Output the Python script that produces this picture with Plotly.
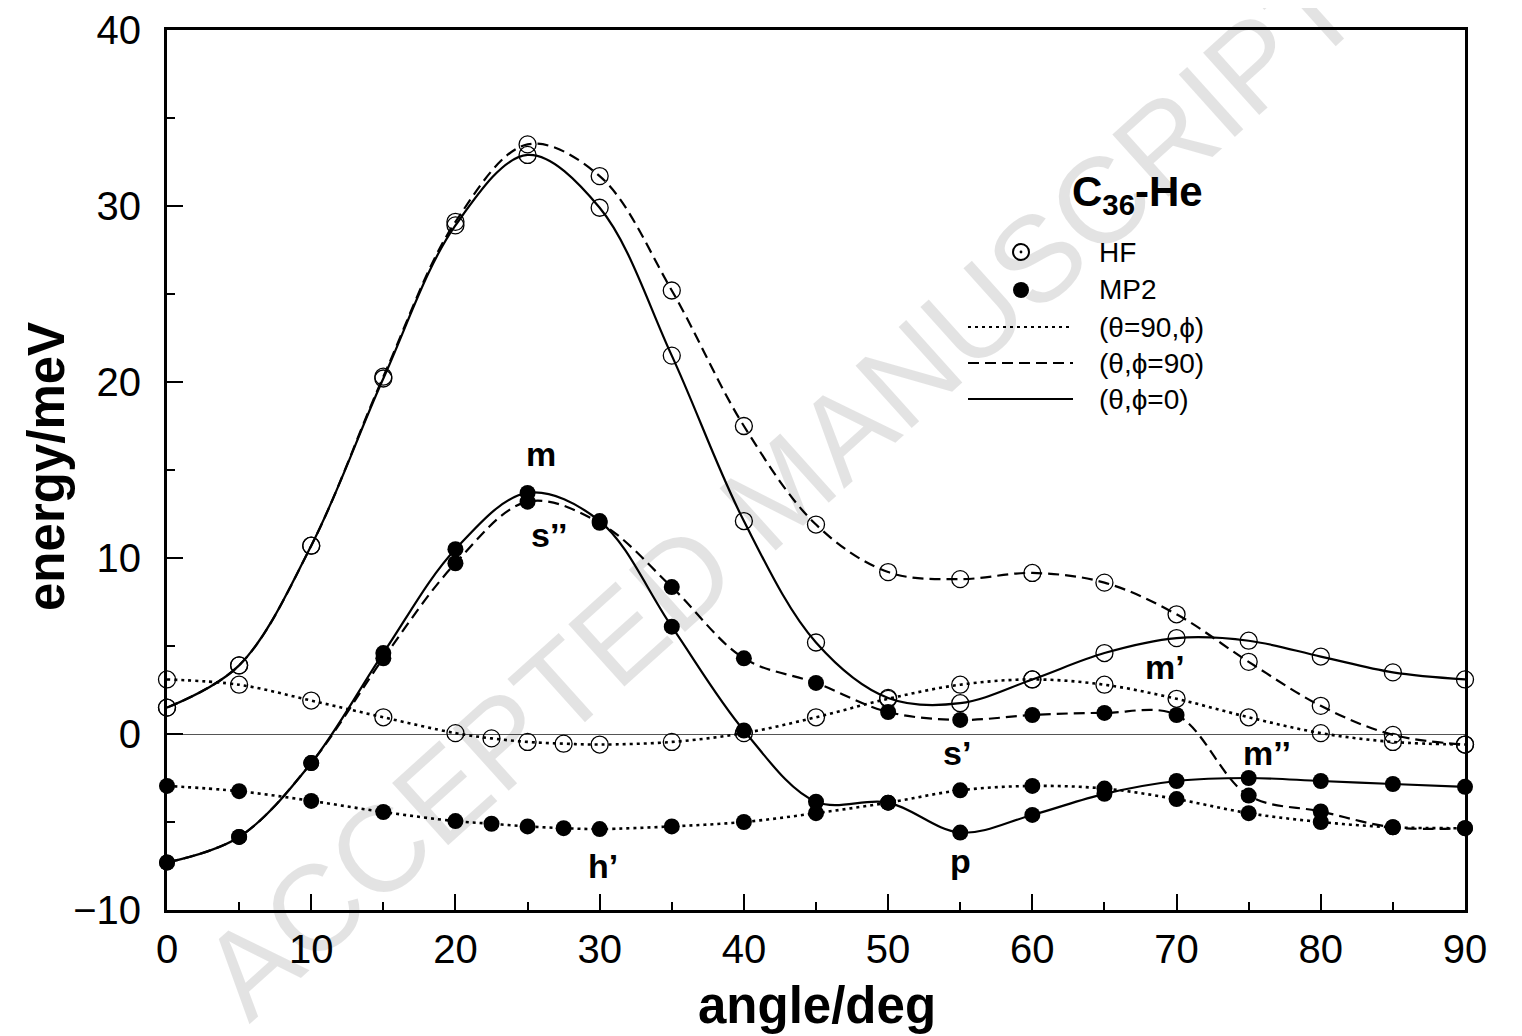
import plotly.graph_objects as go

# ---------------- data ----------------
angles = [0, 5, 10, 15, 20, 25, 30, 35, 40, 45, 50, 55, 60, 65, 70, 75, 80, 85, 90]
angles_dot = [0, 5, 10, 15, 20, 22.5, 25, 27.5, 30, 35, 40, 45, 50, 55, 60, 65, 70, 75, 80, 85, 90]

# HF (open circles)
hf_theta90_phi = [3.1, 2.8, 1.9, 0.95, 0.05, -0.25, -0.45, -0.55, -0.6, -0.45, 0.05,
                  0.95, 2.0, 2.8, 3.1, 2.8, 2.0, 0.95, 0.05, -0.45, -0.6]
hf_theta_phi90 = [1.5, 3.9, 10.7, 20.3, 29.1, 33.5, 31.7, 25.2, 17.5, 11.9, 9.2,
                  8.8, 9.15, 8.6, 6.8, 4.1, 1.6, -0.05, -0.6]
hf_theta_phi0 = [1.5, 3.9, 10.7, 20.2, 28.9, 32.9, 29.9, 21.5, 12.1, 5.2, 2.05,
                 1.75, 3.1, 4.6, 5.45, 5.3, 4.4, 3.5, 3.1]

# MP2 (filled circles)
mp2_theta90_phi = [-2.95, -3.25, -3.8, -4.43, -4.95, -5.1, -5.25, -5.35, -5.4, -5.25, -5.0,
                   -4.5, -3.9, -3.2, -2.95, -3.1, -3.7, -4.5, -5.0, -5.3, -5.35]
mp2_theta_phi90 = [-7.3, -5.85, -1.65, 4.3, 9.7, 13.2, 12.0, 8.35, 4.3, 2.9, 1.25,
                   0.8, 1.08, 1.2, 1.08, -3.5, -4.4, -5.3, -5.35]
mp2_theta_phi0 = [-7.3, -5.85, -1.65, 4.6, 10.5, 13.7, 12.1, 6.1, 0.2, -3.85, -3.9,
                  -5.6, -4.6, -3.4, -2.67, -2.5, -2.67, -2.84, -3.0]

x_ticks = [0, 10, 20, 30, 40, 50, 60, 70, 80, 90]
y_ticks = [-10, 0, 10, 20, 30, 40]
y_ticktext = ["\u221210", "0", "10", "20", "30", "40"]

# point labels: (text, angle, energy)
point_labels = [
    ("m", 25.9, 15.9), ("s\u2019\u2019", 26.5, 11.3), ("s\u2019", 54.8, -1.1),
    ("p", 55.0, -7.2), ("h\u2019", 30.2, -7.5), ("m\u2019", 69.2, 3.8),
    ("m\u2019\u2019", 76.3, -1.1), ("s", 93.0, -2.7), ("h\u2019", 92.4, -6.4),
    ("s", -2.6, -2.6), ("h", -2.6, -7.5),
]

FONT = "Liberation Sans, Arial, Helvetica, sans-serif"

fig = go.Figure()

DOT = "3px,4px"
DASH = "11px,6px"


def add_series(x, y, dash, filled):
    if filled:
        marker = dict(size=16, color="black", symbol="circle")
    else:
        marker = dict(size=17, color="black", symbol="circle-open",
                      line=dict(color="black", width=1.3))
    fig.add_trace(go.Scatter(
        x=x, y=y, mode="lines+markers",
        line=dict(color="black", width=2.6 if dash == DOT else 2.2, dash=dash,
                  shape="spline", smoothing=1.0),
        marker=marker, showlegend=False, cliponaxis=False,
    ))


add_series(angles_dot, hf_theta90_phi, DOT, False)
add_series(angles, hf_theta_phi90, DASH, False)
add_series(angles, hf_theta_phi0, "solid", False)
add_series(angles_dot, mp2_theta90_phi, DOT, True)
add_series(angles, mp2_theta_phi90, DASH, True)
add_series(angles, mp2_theta_phi0, "solid", True)

# --- layout geometry (page has a small body margin) ---
OFF = 8
W, H = 1522 - OFF, 1036 - OFF
L, T = 167 - OFF, 30 - OFF
PR, PB = 1465 - OFF, 910 - OFF
R, B = W - PR, H - PB
PW, PH = PR - L, PB - T


def px(xp):
    return (xp - OFF - L) / PW


def py(yp):
    return (PB - (yp - OFF)) / PH


annotations = []
for txt, ax, ay in point_labels:
    annotations.append(dict(x=ax, y=ay, xref="x", yref="y", text="<b>%s</b>" % txt,
                            showarrow=False, xanchor="center", yanchor="middle",
                            font=dict(family=FONT, size=34, color="black")))

# axis titles
annotations.append(dict(x=px(817), y=py(1005), xref="paper", yref="paper",
                        text="<b>angle/deg</b>", showarrow=False,
                        xanchor="center", yanchor="middle",
                        font=dict(family=FONT, size=51, color="black")))
annotations.append(dict(x=px(46), y=py(467), xref="paper", yref="paper",
                        text="<b>energy/meV</b>", showarrow=False, textangle=-90,
                        xanchor="center", yanchor="middle",
                        font=dict(family=FONT, size=51, color="black")))

# title of the inset
annotations.append(dict(x=px(1137), y=py(194), xref="paper", yref="paper",
                        text="<b>C<sub>36</sub>-He</b>", showarrow=False,
                        xanchor="center", yanchor="middle",
                        font=dict(family=FONT, size=42, color="black")))

legend_rows = [("HF", 252), ("MP2", 290), ("(\u03b8=90,\u03d5)", 327),
               ("(\u03b8,\u03d5=90)", 363), ("(\u03b8,\u03d5=0)", 399)]
for txt, yy in legend_rows:
    annotations.append(dict(x=px(1097), y=py(yy), xref="paper", yref="paper",
                            xanchor="left", yanchor="middle", text=txt, showarrow=False,
                            font=dict(family=FONT, size=28, color="black")))

# watermark
annotations.append(dict(x=px(780), y=py(490), xref="paper", yref="paper",
                        text="ACCEPTED MANUSCRIPT", showarrow=False, textangle=-42,
                        xanchor="center", yanchor="middle",
                        font=dict(family=FONT, size=122, color="rgba(0,0,0,0.11)")))

shapes = []
# legend symbols
shapes.append(dict(type="circle", xref="paper", yref="paper", xsizemode="pixel",
                   ysizemode="pixel", xanchor=px(1021), yanchor=py(252),
                   x0=-8, x1=8, y0=-8, y1=8, line=dict(color="black", width=2)))
shapes.append(dict(type="circle", xref="paper", yref="paper", xsizemode="pixel",
                   ysizemode="pixel", xanchor=px(1021), yanchor=py(252),
                   x0=-1.4, x1=1.4, y0=-1.4, y1=1.4, fillcolor="black",
                   line=dict(color="black", width=0)))
shapes.append(dict(type="circle", xref="paper", yref="paper", xsizemode="pixel",
                   ysizemode="pixel", xanchor=px(1021), yanchor=py(290),
                   x0=-8, x1=8, y0=-8, y1=8, fillcolor="black",
                   line=dict(color="black", width=0)))
for dash, yy in [(DOT, 327), (DASH, 363), ("solid", 399)]:
    shapes.append(dict(type="line", xref="paper", yref="paper",
                       x0=px(968), x1=px(1073), y0=py(yy), y1=py(yy),
                       line=dict(color="black", width=2.2, dash=dash)))

fig.update_layout(
    width=W, height=H,
    margin=dict(l=L, r=R, t=T, b=B, pad=0, autoexpand=False),
    paper_bgcolor="white", plot_bgcolor="white",
    font=dict(family=FONT, color="black"),
    annotations=annotations, shapes=shapes,
    showlegend=False,
    xaxis=dict(
        range=[0, 90], tickvals=x_ticks, ticks="inside", ticklen=16, tickwidth=2,
        tickcolor="black", showline=True, linewidth=3, linecolor="black", mirror=True,
        showgrid=False, zeroline=False, automargin=False,
        minor=dict(ticks="inside", ticklen=8, tickwidth=2, tickcolor="black", dtick=5, tick0=0),
        tickfont=dict(family=FONT, size=40, color="black"), ticklabelstandoff=2,
    ),
    yaxis=dict(
        range=[-10, 40], tickvals=y_ticks, ticktext=y_ticktext, ticks="inside", ticklen=16,
        tickwidth=2, tickcolor="black", showline=True, linewidth=3, linecolor="black",
        mirror=True, showgrid=False, automargin=False,
        zeroline=True, zerolinecolor="#555555", zerolinewidth=1,
        minor=dict(ticks="inside", ticklen=8, tickwidth=2, tickcolor="black", dtick=5, tick0=0),
        tickfont=dict(family=FONT, size=40, color="black"), ticklabelstandoff=15,
    ),
)

fig.write_html("out.html")
